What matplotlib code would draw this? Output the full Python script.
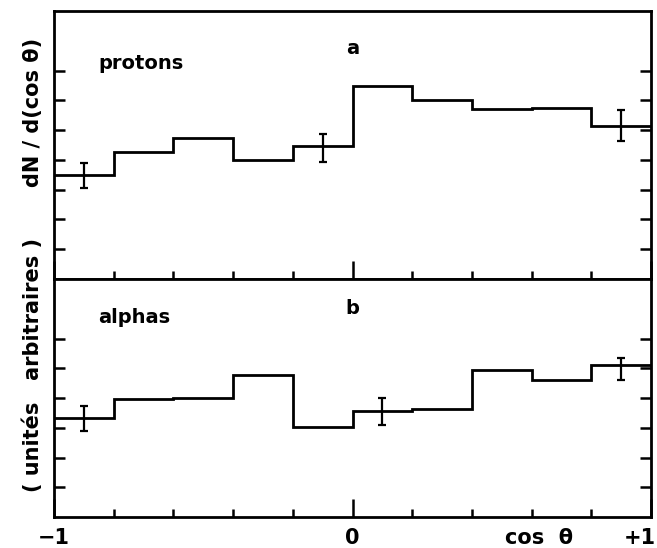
import numpy as np
import matplotlib
matplotlib.use('Agg')
import matplotlib.pyplot as plt

# --- Daten ---
edges = [-1.0, -0.8, -0.6, -0.4, -0.2, 0.0, 0.2, 0.4, 0.6, 0.8, 1.0]
protons = [3.50, 4.28, 4.73, 4.00, 4.45, 6.48, 6.01, 5.72, 5.75, 5.14]
alphas = [3.32, 3.96, 4.01, 4.76, 3.04, 3.56, 3.63, 4.95, 4.59, 5.11]

# Fehlerbalken (Position, Wert, Fehler)
p_err_x = [-0.9, -0.1, 0.9]
p_err_y = [3.48, 4.41, 5.16]
p_err = [0.41, 0.47, 0.52]
a_err_x = [-0.9, 0.1, 0.9]
a_err_y = [3.30, 3.55, 4.98]
a_err = [0.42, 0.46, 0.37]

x_ticks_minor = [-0.8, -0.6, -0.4, -0.2, 0.2, 0.4, 0.6, 0.8]
x_ticks_major = [-1, 0, 1]
x_label_pos = [-1.0, 0.0, 0.625, 0.962]
x_label_txt = ['\u22121', '0', 'cos  \u03b8', '+1']

plt.rcParams['font.family'] = ['DejaVu Sans']
fs = 14

fig = plt.figure(figsize=(6.57, 5.48), dpi=100)
W, H = 657, 548
left, right, top, bottom = 54, 651, 11, 517
mid = 279
ax_top = fig.add_axes([left / W, 1 - mid / H, (right - left) / W, (mid - top) / H])
ax_bot = fig.add_axes([left / W, 1 - bottom / H, (right - left) / W, (bottom - mid) / H])

panels = [
    (ax_top, protons, p_err_x, p_err_y, p_err, 9, 7, 'protons', 'a', 7.25, 7.75),
    (ax_bot, alphas, a_err_x, a_err_y, a_err, 8, 6, 'alphas', 'b', 6.7, 7.0),
]

for ax, vals, ex, ey, ee, ymax, nticks, name, letter, yname, yletter in panels:
    ax.stairs(vals, edges, baseline=None, color='black', linewidth=2.0)
    ax.errorbar(ex, ey, yerr=ee, fmt='none', ecolor='black',
                elinewidth=1.6, capsize=3, capthick=1.6)
    ax.set_xlim(-1, 1)
    ax.set_ylim(0, ymax)
    ax.set_yticks(range(1, nticks + 1))
    ax.set_xticks(x_ticks_major)
    ax.set_xticks(x_ticks_minor, minor=True)
    ax.tick_params(axis='y', direction='in', left=True, right=True,
                   labelleft=False, length=8, width=1.8)
    ax.tick_params(axis='x', which='major', direction='in', length=13, width=1.8)
    ax.tick_params(axis='x', which='minor', direction='in', length=6, width=1.8)
    ax.tick_params(axis='x', which='both', labelbottom=False)
    for sp in ax.spines.values():
        sp.set_linewidth(2.0)
    ax.text(-0.853, yname, name, fontsize=fs, fontweight='bold', va='center', ha='left')
    ax.text(0.0, yletter, letter, fontsize=fs, fontweight='bold', va='center', ha='center')

# x-Beschriftung unter dem unteren Panel
for xp, t in zip(x_label_pos, x_label_txt):
    ax_bot.text(xp, -0.09, t, fontsize=fs + 1, fontweight='bold', ha='center', va='center',
                transform=ax_bot.get_xaxis_transform())

# Achsenbeschriftung links
fig.text(33 / W, 1 - 112 / H, 'dN / d(cos \u03b8)', rotation=90, fontsize=fs + 1,
         fontweight='bold', ha='center', va='center')
fig.text(33 / W, 1 - 365 / H, '( unit\u00e9s   arbitraires )', rotation=90, fontsize=fs + 1,
         fontweight='bold', ha='center', va='center')

fig.savefig('out.png', dpi=100)
